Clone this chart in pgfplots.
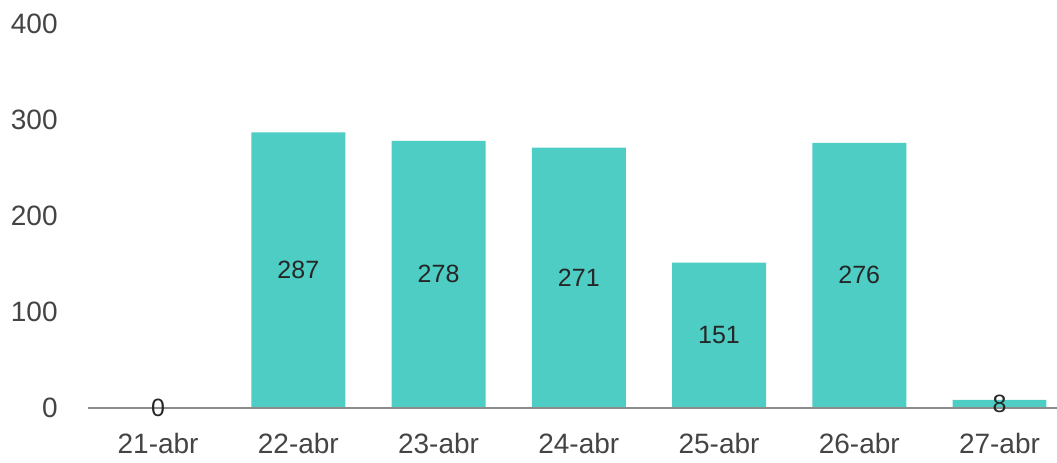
\documentclass[border=0pt]{standalone}
\usepackage{pgfplots}
\pgfplotsset{compat=1.18}
\usepackage{pgfplotstable}
\usepackage{fontspec}
\setmainfont{Liberation Sans}
\definecolor{barc}{HTML}{4ECDC4}
\definecolor{tickc}{HTML}{444444}
\definecolor{axc}{HTML}{8C8C8C}
\pgfplotstableread{
x y
0 0
1 287
2 278
3 271
4 151
5 276
6 8
}\datatab
\begin{document}
\begin{tikzpicture}
\begin{axis}[
  at={(0,0)}, anchor=south west,
  scale only axis,
  width=484.5pt, height=203.75pt,
  xmin=-0.5, xmax=6.41,
  ymin=0, ymax=425,
  axis lines*=left,
  axis line style={draw=none},
  ytick={0,100,200,300,400},
  xtick={0,1,2,3,4,5,6},
  xticklabels={21-abr,22-abr,23-abr,24-abr,25-abr,26-abr,27-abr},
  major tick length=0pt,
  tick style={draw=none},
  /pgf/number format/assume math mode=true,
  ticklabel style={font=\fontsize{14}{16}\selectfont, text=tickc, inner sep=0pt},
  xticklabel style={anchor=north, yshift=-12.5pt},
  yticklabel style={anchor=east, xshift=-15pt},
  clip=false,
]
\addplot[ybar, bar width=0.67, fill=barc, draw=none] table[x=x,y=y]{\datatab};
\draw[axc, line width=1pt] (axis cs:-0.5,0) -- (axis cs:6.41,0);
\addplot[draw=none, mark=none, nodes near coords, point meta=explicit,
  nodes near coords align=center,
  every node near coord/.append style={font=\fontsize{12.5}{14}\selectfont, text=black!85, inner sep=0pt, anchor=center}]
  table[x=x, y expr=\thisrow{y}/2, meta=y]{\datatab};
\end{axis}
\pgfresetboundingbox
\path (-44pt,-27.25pt) rectangle (484.5pt,203.75pt);
\end{tikzpicture}
\end{document}
